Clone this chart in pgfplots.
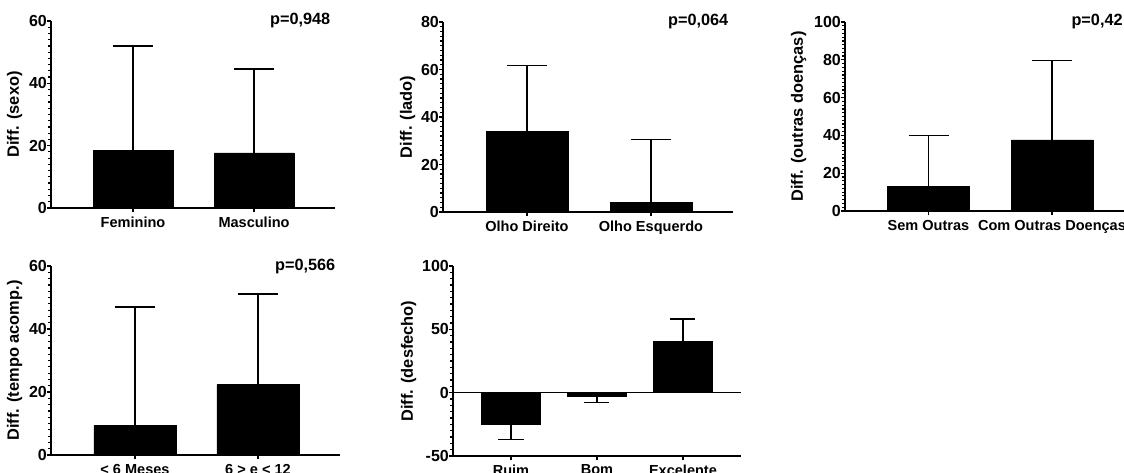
\documentclass[border=0pt]{standalone}
\usepackage{fontspec}
\setmainfont{Liberation Sans}
\usepackage{pgfplots}
\pgfplotsset{compat=1.18}

\newcommand{\xtickfont}{\fontsize{10.9}{12}\selectfont\bfseries}
\newcommand{\ytickfont}{\fontsize{12}{13}\selectfont\bfseries}
\newcommand{\labfont}{\fontsize{12.3}{14}\selectfont\bfseries}

\pgfplotsset{
  prism/.style={
    scale only axis,
    axis lines*=left,
    axis line style={line width=1.3pt},
    tick align=outside,
    major tick length=3.2pt, minor tick length=2.2pt,
    every tick/.style={black, line width=0.9pt},
    minor y tick num=9,
    xtick={0,1},
    ymin=0, clip=false,
    xticklabel style={font=\xtickfont},
    yticklabel style={font=\ytickfont, inner xsep=0pt, xshift=0.3pt},
    /pgf/number format/assume math mode=true,
  },
  ylab/.style={ylabel style={font=\labfont,
    at={([xshift=-#1]axis description cs:0,0.5)}, anchor=south}},
  bars/.style={ybar, bar shift=0pt, bar width=#1, fill=black, draw=black,
    error bars/y dir=plus, error bars/y explicit,
    error bars/error bar style={line width=1pt},
    error bars/error mark options={rotate=90, line width=1pt, mark size=15pt}},
}
\tikzset{pval/.style={anchor=east, font=\fontsize{12.2}{14}\selectfont\bfseries}}

\begin{document}
\begin{tikzpicture}
\path[use as bounding box] (0,0) rectangle (843pt,354pt);
\clip (0,0) rectangle (843pt,354pt);

% sexo
\begin{axis}[prism, ylab=18pt, at={(38.25pt,198pt)}, anchor=south west,
  width=213pt, height=140.25pt,
  xmin=-0.678, xmax=1.669, ymax=60, ytick={0,20,40,60},
  xticklabels={Feminino,Masculino}, ylabel={Diff. (sexo)}]
\addplot[bars=0.66] coordinates {(0,18.6) +- (0,33.4) (1,17.7) +- (0,26.9)};
\node[pval] at (rel axis cs:1,1) {p=0,948};
\end{axis}

% lado
\begin{axis}[prism, ylab=17.25pt, at={(332.25pt,195pt)}, anchor=south west,
  width=217.5pt, height=142.5pt,
  xmin=-0.677, xmax=1.662, ymax=80, ytick={0,20,40,60,80},
  xticklabels={Olho Direito,Olho Esquerdo}, ylabel={Diff. (lado)}]
\addplot[bars=0.66] coordinates {(0,33.8) +- (0,27.8) (1,3.9) +- (0,26.5)};
\node[pval] at (rel axis cs:1,1) {p=0,064};
\end{axis}

% outras doencas
\begin{axis}[prism, ylab=25.5pt, at={(633.75pt,195.75pt)}, anchor=south west,
  width=217.5pt, height=141.75pt,
  xmin=-0.676, xmax=1.672, ymax=100, ytick={0,20,40,60,80,100},
  xticklabels={Sem Outras,Com Outras Doenças}, ylabel={Diff. (outras doenças)}]
\addplot[bars=0.66] coordinates {(0,13.1) +- (0,26.7) (1,37.6) +- (0,41.9)};
\node[pval, anchor=west] at (axis cs:1.12,100) {p=0,42};
\end{axis}

% tempo acomp.
\begin{axis}[prism, ylab=18pt, at={(38.25pt,12.75pt)}, anchor=south west,
  width=216.75pt, height=141.75pt,
  xmin=-0.683, xmax=1.667, ymax=60, ytick={0,20,40,60},
  xticklabels={< 6 Meses,6 > e < 12}, ylabel={Diff. (tempo acomp.)}]
\addplot[bars=0.667] coordinates {(0,9.4) +- (0,37.6) (1,22.3) +- (0,28.8)};
\node[pval] at (rel axis cs:1,1) {p=0,566};
\end{axis}

% desfecho
\begin{axis}[prism, ylab=24pt, at={(339.75pt,12pt)}, anchor=south west,
  width=216pt, height=142.5pt,
  xmin=-0.674, xmax=2.675, ymin=-50, ymax=100, ytick={-50,0,50,100},
  xtick={0,1,2}, xticklabels={Ruim,Bom,Excelente}, ylabel={Diff. (desfecho)}]
\addplot[black, line width=1pt] coordinates {(-0.674,0) (2.675,0)};
\addplot[bars=0.68, error bars/y dir=minus, error bars/error mark options={rotate=90, line width=1pt, mark size=9.4pt}]
  coordinates {(0,-25) +- (0,12) (1,-2.6) +- (0,5.3)};
\addplot[bars=0.68, error bars/error mark options={rotate=90, line width=1pt, mark size=9.4pt}]
  coordinates {(2,40.3) +- (0,17.9)};
\end{axis}
\end{tikzpicture}
\end{document}
